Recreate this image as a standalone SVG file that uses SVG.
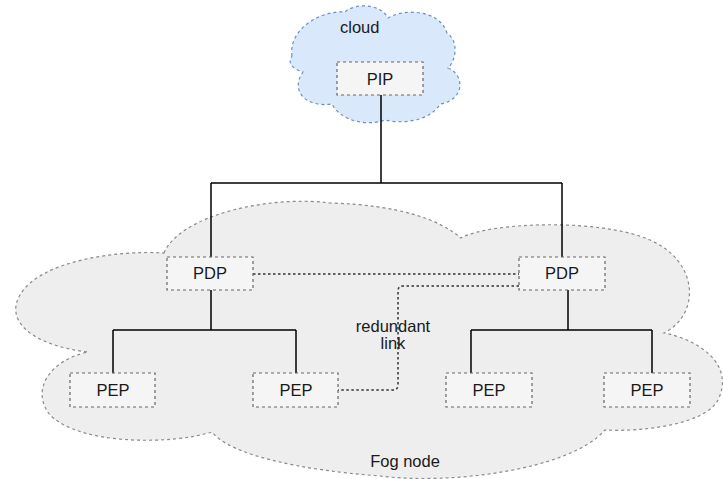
<svg xmlns="http://www.w3.org/2000/svg" width="723" height="479" viewBox="0 0 723 479">
  <style>
    .fog { fill: #eeeeee; stroke: #8a8a8a; stroke-width: 1.2; stroke-dasharray: 3 3; }
    .sky { fill: #dae8fc; stroke: #6c8ebf; stroke-width: 1.2; stroke-dasharray: 3 3; }
    .box { fill: #f5f5f5; stroke: #666666; stroke-width: 1.2; stroke-dasharray: 3 3; }
    .wire { fill: none; stroke: #000000; stroke-width: 1.5; }
    .dot { fill: none; stroke: #333333; stroke-width: 1.5; stroke-dasharray: 2.5 2.5; }
    text { font-family: "Liberation Sans", Arial, sans-serif; font-size: 16.5px; fill: #1a1a1a; }
    .c { text-anchor: middle; }
  </style>

  <!-- fog layer cloud -->
  <g id="fog">
    <path class="fog" d="M 164 253 C 180 215, 270 195, 330 203 C 400 205, 440 220, 461 238 C 490 222, 600 218, 650 240 C 700 262, 700 315, 664 333 C 700 340, 735 365, 718 400 C 705 425, 640 432, 605 430 C 570 470, 450 485, 380 476 C 300 470, 230 455, 212 432 C 170 445, 80 445, 50 415 C 30 390, 50 360, 88 352 C 30 345, 5 320, 20 295 C 40 260, 120 250, 164 253 Z"/>
    <text class="c" x="405" y="467">Fog node</text>
  </g>

  <!-- cloud layer -->
  <g id="cloud">
    <path class="sky" d="M 292 56 C 288 30, 320 10, 345 12 C 355 3, 380 3, 388 18 C 405 8, 440 10, 447 33 C 460 42, 455 62, 448 68 C 465 75, 465 100, 440 104 C 430 122, 400 124, 385 120 C 365 127, 340 120, 332 104 C 305 108, 290 90, 303 72 C 290 68, 288 62, 292 56 Z"/>
    <text x="340" y="33">cloud</text>
  </g>

  <!-- connectors -->
  <g id="connectors">
    <path class="wire" d="M 381 95 V 183 M 211 183 H 562 M 211 183 V 257 M 562 183 V 257"/>
    <path class="wire" d="M 211 290 V 330 M 113 330 H 296 M 113 330 V 373 M 296 330 V 373"/>
    <path class="wire" d="M 568 290 V 330 M 471 330 H 652 M 471 330 V 373 M 652 330 V 373"/>
    <path class="dot" d="M 253 274 H 519"/>
    <path class="dot" d="M 519 286 H 403 Q 398 286 398 291 V 385 Q 398 390 393 390 H 338"/>
    <text class="c" x="393" y="332">redundant</text>
    <text class="c" x="393" y="349">link</text>
  </g>

  <g id="pip">
    <rect class="box" x="337" y="62" width="86" height="33"/>
    <text class="c" x="380" y="85">PIP</text>
  </g>
  <g id="pdp-left">
    <rect class="box" x="167" y="257" width="86" height="33"/>
    <text class="c" x="210" y="279">PDP</text>
  </g>
  <g id="pdp-right">
    <rect class="box" x="519" y="257" width="86" height="33"/>
    <text class="c" x="562" y="279">PDP</text>
  </g>
  <g id="pep-1">
    <rect class="box" x="70" y="373" width="85" height="34"/>
    <text class="c" x="113" y="396">PEP</text>
  </g>
  <g id="pep-2">
    <rect class="box" x="253" y="373" width="85" height="34"/>
    <text class="c" x="296" y="396">PEP</text>
  </g>
  <g id="pep-3">
    <rect class="box" x="446" y="373" width="86" height="34"/>
    <text class="c" x="489" y="396">PEP</text>
  </g>
  <g id="pep-4">
    <rect class="box" x="604" y="373" width="86" height="34"/>
    <text class="c" x="647" y="396">PEP</text>
  </g>
</svg>
